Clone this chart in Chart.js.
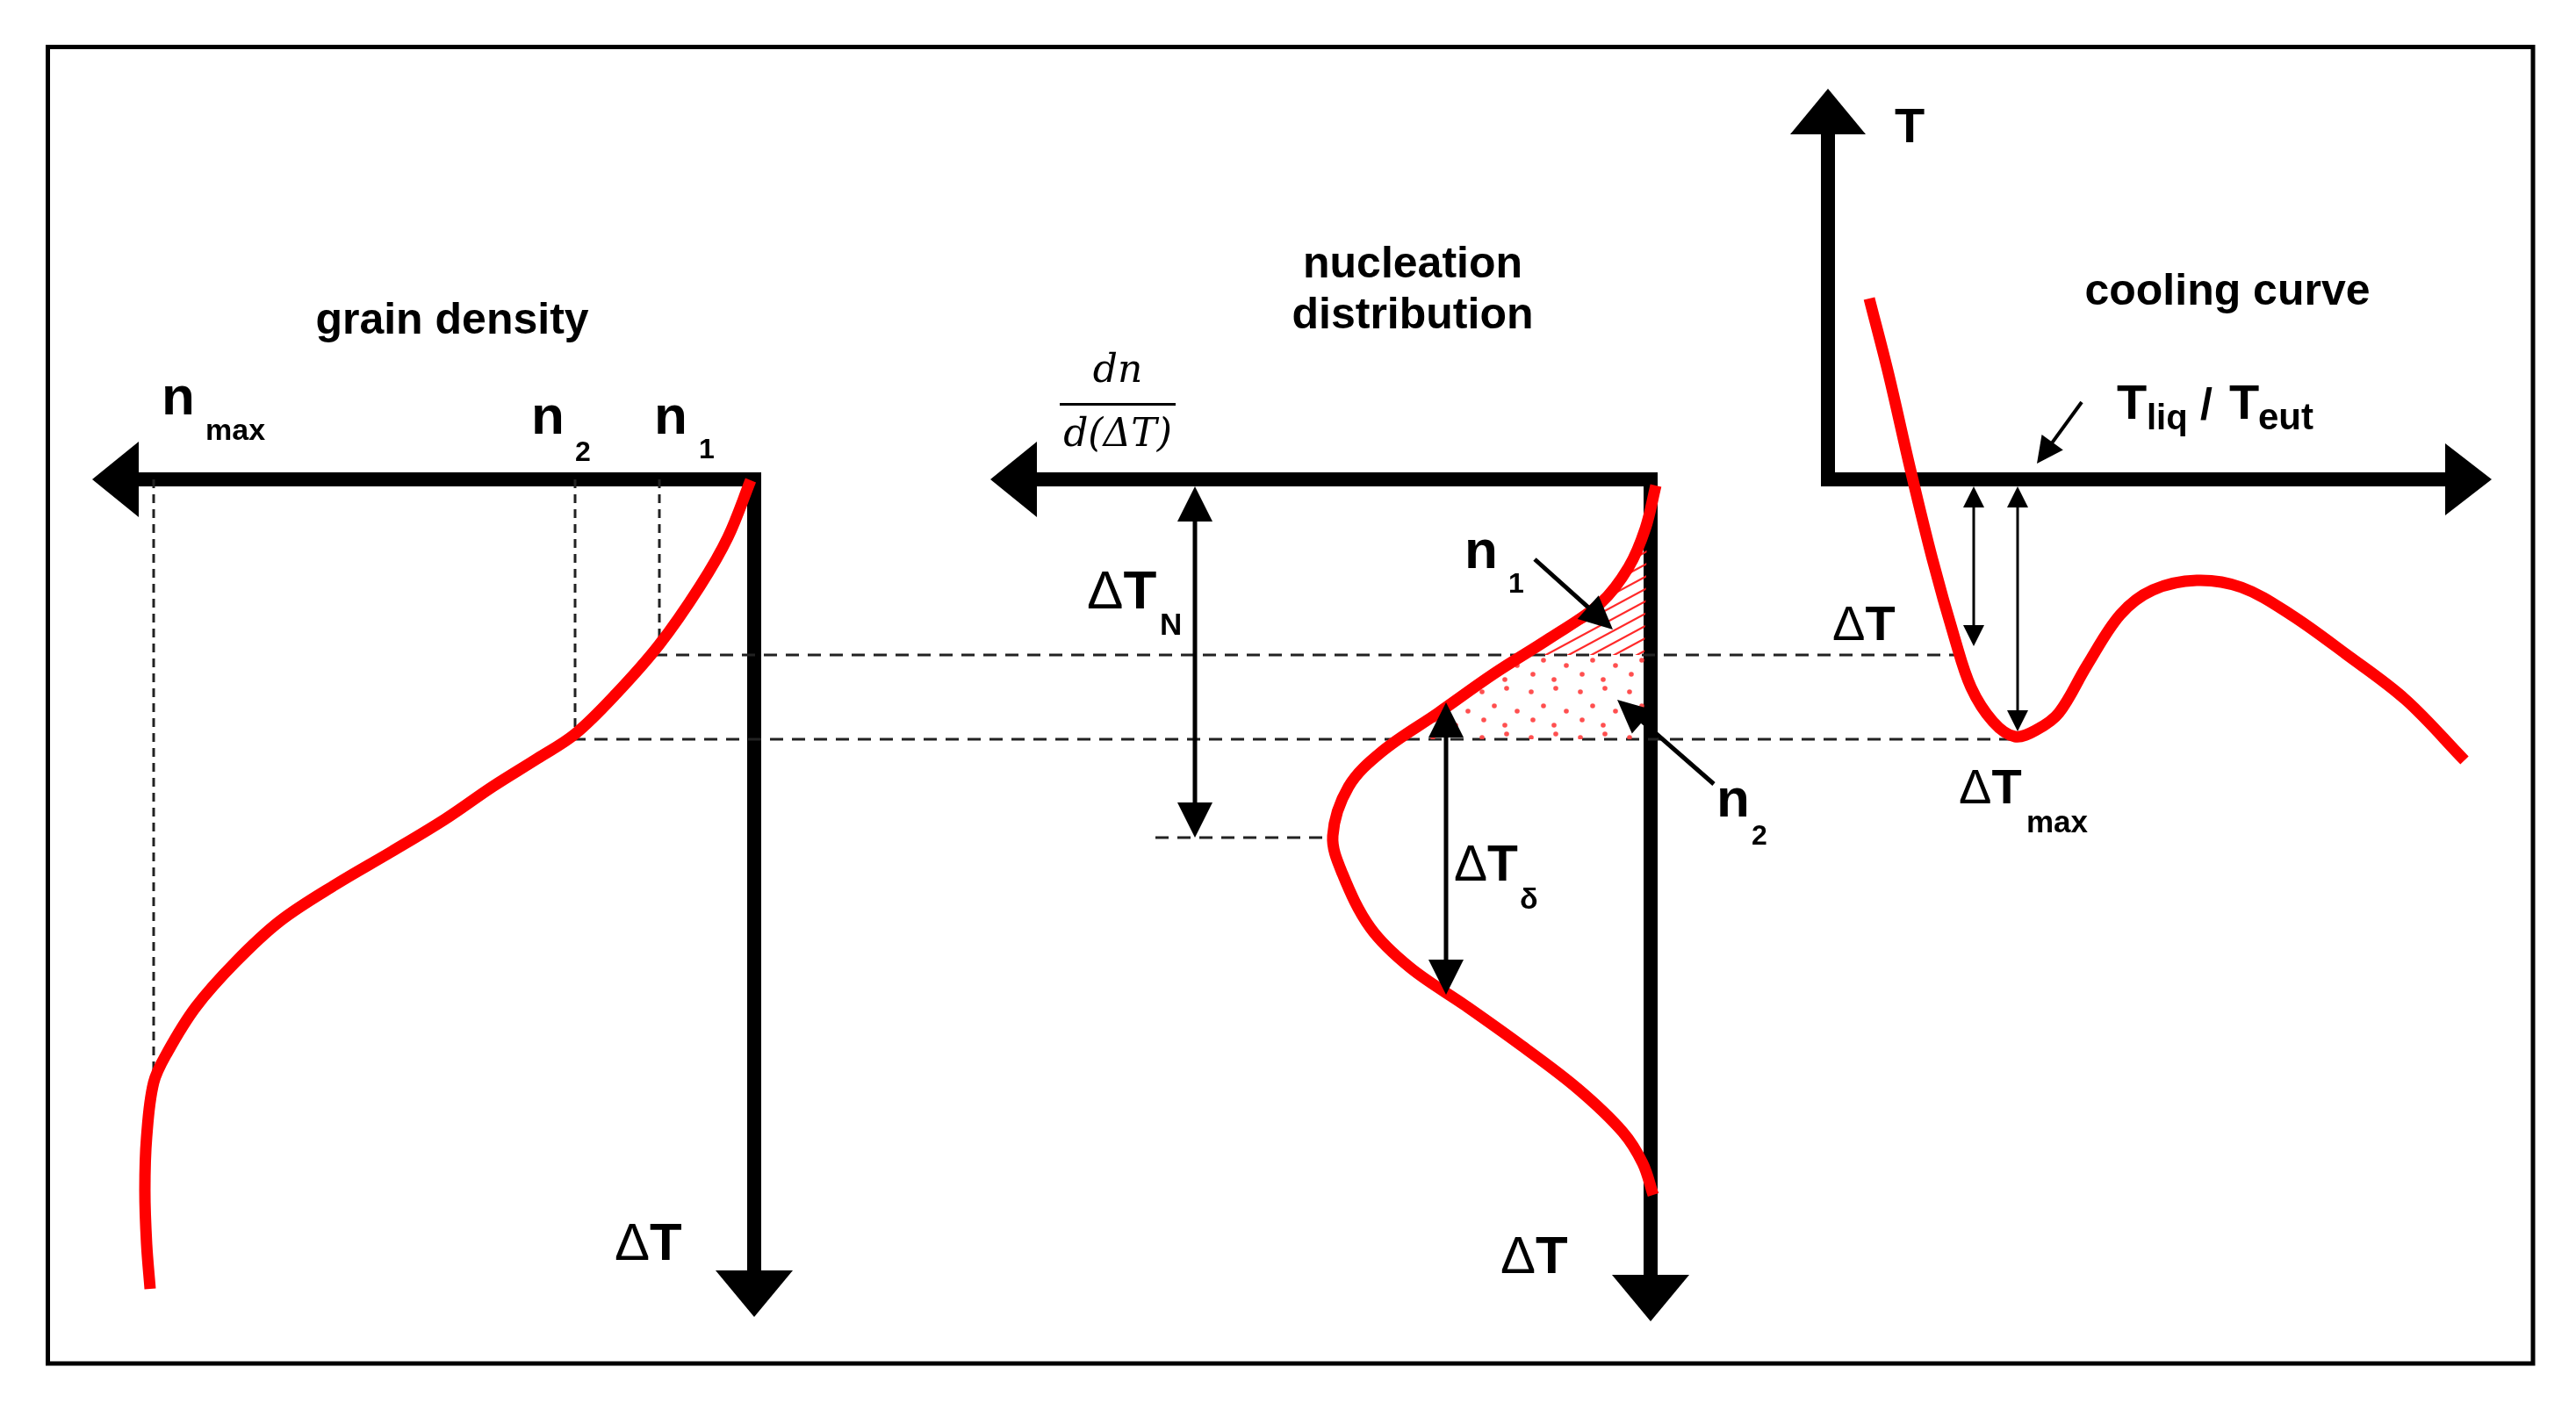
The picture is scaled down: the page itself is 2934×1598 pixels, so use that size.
<!DOCTYPE html>
<html>
<head>
<meta charset="utf-8">
<title>grain density / nucleation distribution / cooling curve</title>
<script src="https://cdn.jsdelivr.net/npm/chart.js@4.4.1/dist/chart.umd.min.js"></script>
<style>
  html, body { margin: 0; padding: 0; background: #fff; }
  canvas { display: block; }
</style>
</head>
<body>
<canvas id="diagram" width="2934" height="1598"></canvas>
<script>
// diagram units: x across the figure, y = undercooling growing downward
const grainCurve = [[855, 547], [829, 612], [797, 668], [751, 734], [702, 790], [655, 836], [612, 864],
  [561, 896], [507, 933], [446, 970], [383, 1007], [319, 1049], [268, 1096], [223, 1147], [191, 1198],
  [175, 1233], [167, 1295], [165, 1356], [167, 1417], [171, 1468]];
const nucleationCurve = [[1886, 553], [1874, 602], [1855, 646], [1823, 687], [1765, 727], [1702, 767],
  [1638, 812], [1574, 856], [1536, 896], [1518, 952], [1529, 995], [1561, 1057], [1606, 1102],
  [1670, 1146], [1733, 1191], [1797, 1240], [1848, 1289], [1871, 1325], [1883, 1361]];
const coolingCurve = [[2129, 340], [2151, 426], [2176, 535], [2201, 637], [2226, 726], [2245, 783],
  [2270, 822], [2295, 839], [2320, 831], [2345, 812], [2377, 758], [2415, 700], [2452, 672],
  [2502, 661], [2553, 669], [2609, 700], [2672, 745], [2740, 797], [2807, 866]];
const n1Zone = [[1876, 605], [1855, 646], [1823, 687], [1765, 727], [1735, 746], [1873, 746]];
const n2Zone = [[1735, 746], [1702, 767], [1660, 797], [1630, 818], [1594, 842], [1873, 842], [1873, 746]];

const levelN1 = 746;
const levelN2 = 842;
const levelPeak = 954;
const nMax = 175, n2 = 655, n1 = 751;

const RED = "#ff0000";
const SANS = "'Liberation Sans', Arial, sans-serif";
const SERIF = "'DejaVu Serif', 'Liberation Serif', serif";

function pts(a) {
  return a.map(p => ({ x: p[0], y: p[1] }));
}

const canvas = document.getElementById("diagram");
const ctx0 = canvas.getContext("2d");

function makeHatch() {
  const t = document.createElement("canvas");
  t.width = 26; t.height = 14;
  const c = t.getContext("2d");
  c.strokeStyle = "rgba(255,30,30,0.95)";
  c.lineWidth = 2.2;
  for (let k = -1; k <= 1; k++) {
    c.beginPath();
    c.moveTo(-26, 28 + k * 14);
    c.lineTo(52, -14 + k * 14);
    c.stroke();
  }
  return ctx0.createPattern(t, "repeat");
}

function makeDots() {
  const t = document.createElement("canvas");
  t.width = 56; t.height = 52;
  const c = t.getContext("2d");
  c.fillStyle = "rgba(255,60,60,0.9)";
  [[8, 8], [36, 4], [22, 24], [48, 30], [10, 40], [34, 46]].forEach(d => {
    c.beginPath();
    c.arc(d[0], d[1], 2.8, 0, Math.PI * 2);
    c.fill();
  });
  return ctx0.createPattern(t, "repeat");
}

function guide(a, b, dash) {
  return {
    data: pts([a, b]),
    showLine: true,
    borderColor: "#222",
    borderWidth: 3,
    borderDash: dash,
    pointRadius: 0,
    tension: 0,
    order: 3,
  };
}

function curve(a) {
  return {
    data: pts(a),
    showLine: true,
    borderColor: RED,
    borderWidth: 13,
    borderCapStyle: "butt",
    pointRadius: 0,
    tension: 0.35,
    order: 0,
  };
}

function zone(a, pattern) {
  return {
    data: pts(a),
    showLine: true,
    borderWidth: 0,
    borderColor: "rgba(0,0,0,0)",
    backgroundColor: pattern,
    fill: "shape",
    pointRadius: 0,
    tension: 0,
    order: 2,
  };
}

function arrowHead(c, fx, fy, tx, ty, len, half) {
  const a = Math.atan2(ty - fy, tx - fx);
  const bx = tx - Math.cos(a) * len, by = ty - Math.sin(a) * len;
  c.beginPath();
  c.moveTo(tx, ty);
  c.lineTo(bx + Math.sin(a) * half, by - Math.cos(a) * half);
  c.lineTo(bx - Math.sin(a) * half, by + Math.cos(a) * half);
  c.closePath();
  c.fill();
}

function arrow(c, x1, y1, x2, y2, lw, len, half, both) {
  const a = Math.atan2(y2 - y1, x2 - x1);
  const ex = x2 - Math.cos(a) * len * 0.8, ey = y2 - Math.sin(a) * len * 0.8;
  let sx = x1, sy = y1;
  if (both) { sx = x1 + Math.cos(a) * len * 0.8; sy = y1 + Math.sin(a) * len * 0.8; }
  c.lineWidth = lw;
  c.lineCap = "butt";
  c.beginPath();
  c.moveTo(sx, sy);
  c.lineTo(ex, ey);
  c.stroke();
  arrowHead(c, x1, y1, x2, y2, len, half);
  if (both) arrowHead(c, x2, y2, x1, y1, len, half);
}

function txt(c, s, x, y, size, weight, align, family) {
  c.font = (weight || "bold") + " " + size + "px " + (family || SANS);
  c.textAlign = align || "left";
  c.textBaseline = "alphabetic";
  c.fillText(s, x, y);
}

function deltaT(c, x, y, size) {
  txt(c, "\u0394", x, y, size, "normal");
  c.font = "normal " + size + "px " + SANS;
  const w = c.measureText("\u0394").width;
  txt(c, "T", x + w, y, size, "bold");
}

const figure = {
  id: "figure",
  beforeDatasetsDraw(chart) {
    const c = chart.ctx;
    const X = v => chart.scales.x.getPixelForValue(v);
    const Y = v => chart.scales.y.getPixelForValue(v);
    c.save();
    c.strokeStyle = "#000";
    c.fillStyle = "#000";
    c.lineWidth = 5;
    c.strokeRect(X(54.5), Y(53.5), X(2885) - X(54.5), Y(1553) - Y(53.5));

    // grain density axes
    arrow(c, X(867), Y(546), X(105), Y(546), 16, 53, 43);
    arrow(c, X(859), Y(538), X(859), Y(1500), 16, 53, 44);
    // nucleation distribution axes
    arrow(c, X(1888), Y(546), X(1128), Y(546), 16, 53, 43);
    arrow(c, X(1880), Y(538), X(1880), Y(1505), 16, 53, 44);
    // cooling curve axes
    arrow(c, X(2082), Y(554), X(2082), Y(101), 16, 52, 43);
    arrow(c, X(2074), Y(546), X(2838), Y(546), 16, 53, 41);
    c.restore();
  },
  afterDatasetsDraw(chart) {
    const c = chart.ctx;
    const X = v => chart.scales.x.getPixelForValue(v);
    const Y = v => chart.scales.y.getPixelForValue(v);
    c.save();
    c.fillStyle = "#000";
    c.strokeStyle = "#000";

    // titles
    txt(c, "grain density", X(515), Y(380), 50, "bold", "center");
    txt(c, "nucleation", X(1609), Y(316), 50, "bold", "center");
    txt(c, "distribution", X(1609), Y(374), 50, "bold", "center");
    txt(c, "cooling curve", X(2537), Y(347), 50, "bold", "center");

    // grain density labels
    txt(c, "n", X(184), Y(472), 62);
    txt(c, "max", X(234), Y(501), 34);
    txt(c, "n", X(605), Y(494), 62);
    txt(c, "2", X(655), Y(525), 32);
    txt(c, "n", X(745), Y(494), 62);
    txt(c, "1", X(796), Y(522), 32);
    deltaT(c, X(700), Y(1435), 60);

    // nucleation distribution labels
    txt(c, "dn", X(1273), Y(435), 44, "italic", "center", SERIF);
    c.fillRect(X(1207), Y(459), X(1339) - X(1207), 3);
    txt(c, "d(\u0394T)", X(1273), Y(508), 44, "italic", "center", SERIF);
    deltaT(c, X(1238), Y(693), 62);
    txt(c, "N", X(1321), Y(723), 35);
    deltaT(c, X(1656), Y(1003), 57);
    txt(c, "\u03b4", X(1731), Y(1035), 34);
    txt(c, "n", X(1668), Y(647), 62);
    txt(c, "1", X(1718), Y(675), 32);
    txt(c, "n", X(1955), Y(930), 62);
    txt(c, "2", X(1995), Y(962), 32);
    deltaT(c, X(1709), Y(1450), 60);

    arrow(c, X(1361), Y(554), X(1361), Y(levelPeak), 5, 40, 20, true);
    arrow(c, X(1647), Y(800), X(1647), Y(1133), 5, 40, 20, true);
    arrow(c, X(1748), Y(637), X(1837), Y(717), 5, 38, 18);
    arrow(c, X(1952), Y(893), X(1842), Y(797), 5, 38, 18);

    // cooling curve labels
    txt(c, "T", X(2158), Y(162), 56);
    txt(c, "T", X(2411), Y(477), 56);
    txt(c, "liq", X(2445), Y(489), 40);
    txt(c, "/", X(2506), Y(477), 50);
    txt(c, "T", X(2539), Y(477), 56);
    txt(c, "eut", X(2572), Y(489), 42);
    deltaT(c, X(2087), Y(729), 56);
    deltaT(c, X(2231), Y(915), 56);
    txt(c, "max", X(2308), Y(948), 35);

    arrow(c, X(2371), Y(458), X(2320), Y(528), 4, 30, 15);
    arrow(c, X(2248), Y(554), X(2248), Y(736), 3, 24, 12, true);
    arrow(c, X(2298), Y(554), X(2298), Y(833), 3, 24, 12, true);
    c.restore();
  },
};

new Chart(canvas, {
  type: "scatter",
  data: {
    datasets: [
      curve(grainCurve),
      curve(nucleationCurve),
      curve(coolingCurve),
      zone(n1Zone, makeHatch()),
      zone(n2Zone, makeDots()),
      guide([nMax, 546], [nMax, 1228], [10, 7]),
      guide([n2, 546], [n2, levelN2 - 4], [10, 7]),
      guide([n1, 546], [n1, levelN1 - 10], [10, 7]),
      guide([745, levelN1], [2232, levelN1], [15, 10]),
      guide([652, levelN2], [2294, levelN2], [15, 10]),
      guide([1316, levelPeak], [1518, levelPeak], [15, 10]),
    ],
  },
  options: {
    responsive: false,
    devicePixelRatio: 1,
    animation: false,
    events: [],
    layout: { padding: 0 },
    plugins: {
      legend: { display: false },
      tooltip: { enabled: false },
    },
    scales: {
      x: { type: "linear", min: 0, max: 2934, display: false },
      y: { type: "linear", min: 0, max: 1598, reverse: true, display: false },
    },
  },
  plugins: [figure],
});
</script>
</body>
</html>
